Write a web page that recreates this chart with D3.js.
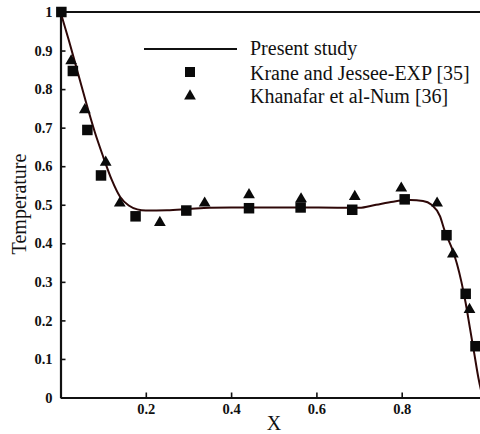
<!DOCTYPE html>
<html>
<head>
<meta charset="utf-8">
<script src="https://cdn.jsdelivr.net/npm/d3@7"></script>
<style>
  html, body { margin: 0; padding: 0; background: #fff; }
  svg { display: block; }
  text { font-family: "Liberation Serif", "Times New Roman", serif; fill: #111; }
</style>
</head>
<body>
<div id="chart"></div>
<script>
// ---- data ----
const curveX = [0, 0.02, 0.04, 0.06, 0.08, 0.10, 0.12, 0.14, 0.16, 0.18, 0.20, 0.25, 0.30, 0.35, 0.40, 0.50, 0.60, 0.70, 0.74, 0.78, 0.82, 0.85, 0.87, 0.89, 0.90, 0.92, 0.93, 0.94, 0.95, 0.96, 0.97, 0.98, 0.99];
const curveY = [1.0, 0.925, 0.845, 0.765, 0.69, 0.625, 0.565, 0.52, 0.498, 0.488, 0.485, 0.486, 0.489, 0.492, 0.493, 0.493, 0.493, 0.492, 0.50, 0.508, 0.512, 0.51, 0.50, 0.47, 0.435, 0.38, 0.345, 0.30, 0.245, 0.18, 0.115, 0.05, 0.0];

const expX = [0.002, 0.029, 0.063, 0.095, 0.176, 0.295, 0.442, 0.563, 0.684, 0.807, 0.905, 0.950, 0.973];
const expY = [1.0, 0.847, 0.694, 0.576, 0.470, 0.485, 0.491, 0.493, 0.487, 0.514, 0.421, 0.269, 0.133];

const numX = [0.025, 0.057, 0.106, 0.139, 0.233, 0.338, 0.442, 0.564, 0.690, 0.799, 0.883, 0.920, 0.959];
const numY = [0.873, 0.746, 0.610, 0.504, 0.454, 0.504, 0.526, 0.515, 0.521, 0.543, 0.504, 0.372, 0.228];

const xTicks = [0.2, 0.4, 0.6, 0.8];
const xTickLabels = ["0.2", "0.4", "0.6", "0.8"];
const yTicks = [0, 0.1, 0.2, 0.3, 0.4, 0.5, 0.6, 0.7, 0.8, 0.9, 1];
const yTickLabels = ["0", "0.1", "0.2", "0.3", "0.4", "0.5", "0.6", "0.7", "0.8", "0.9", "1"];
const seriesNames = ["Present study", "Krane and Jessee-EXP [35]", "Khanafar et al-Num [36]"];
const xTitle = "X";
const yTitle = "Temperature";

// ---- drawing ----
const W = 480, H = 434;
const svg = d3.select("#chart").append("svg").attr("width", W).attr("height", H);

const x = d3.scaleLinear().domain([0, 1]).range([60.5, 487]);
const y = d3.scaleLinear().domain([0, 1]).range([397.5, 12]);

// frame
svg.append("line").attr("x1", x(0)).attr("x2", x(1)).attr("y1", y(1)).attr("y2", y(1))
  .attr("stroke", "#111").attr("stroke-width", 2);
svg.append("line").attr("x1", x(1)).attr("x2", x(1)).attr("y1", y(1)).attr("y2", y(0))
  .attr("stroke", "#111").attr("stroke-width", 2);

// axes
const xAxis = d3.axisBottom(x).tickValues(xTicks)
  .tickFormat((d, i) => xTickLabels[i]).tickSizeInner(-5).tickSizeOuter(0).tickPadding(6);
const gx = svg.append("g").attr("transform", `translate(0,${y(0)})`).call(xAxis);
gx.select(".domain").attr("stroke", "#111").attr("stroke-width", 2.2);
gx.selectAll(".tick line").attr("stroke", "#111").attr("stroke-width", 1.6);
gx.selectAll(".tick text").attr("font-size", 14.5).attr("font-weight", "bold")
  .attr("font-family", "Liberation Serif").attr("fill", "#222");

const yAxis = d3.axisLeft(y).tickValues(yTicks)
  .tickFormat((d, i) => yTickLabels[i]).tickSizeInner(-5).tickSizeOuter(0).tickPadding(8);
const gy = svg.append("g").attr("transform", `translate(${x(0)},0)`).call(yAxis);
gy.select(".domain").attr("stroke", "#111").attr("stroke-width", 2.2);
gy.selectAll(".tick line").attr("stroke", "#111").attr("stroke-width", 1.6);
gy.selectAll(".tick text").attr("font-size", 14.5).attr("font-weight", "bold")
  .attr("font-family", "Liberation Serif").attr("fill", "#222");

// axis titles
svg.append("text").attr("x", 274).attr("y", 430).attr("text-anchor", "middle")
  .attr("font-size", 20).text(xTitle);
svg.append("text").attr("transform", "translate(26,204) rotate(-90)")
  .attr("text-anchor", "middle").attr("font-size", 20).text(yTitle);

// curve
const curvePts = curveX.map((v, i) => [v, curveY[i]]);
const line = d3.line().x(d => x(d[0])).y(d => y(d[1])).curve(d3.curveMonotoneX);
svg.append("path").datum(curvePts).attr("d", line)
  .attr("fill", "none").attr("stroke", "#2e0808").attr("stroke-width", 2);

// squares
const sq = 10.5;
svg.append("g").selectAll("rect").data(expX.map((v, i) => [v, expY[i]])).join("rect")
  .attr("x", d => x(d[0]) - sq / 2).attr("y", d => y(d[1]) - sq / 2)
  .attr("width", sq).attr("height", sq).attr("fill", "#0a0a0a");

// triangles
const tri = d3.symbol().type(d3.symbolTriangle).size(60);
svg.append("g").selectAll("path").data(numX.map((v, i) => [v, numY[i]])).join("path")
  .attr("transform", d => `translate(${x(d[0])},${y(d[1])})`)
  .attr("d", tri).attr("fill", "#0a0a0a");

// legend
svg.append("line").attr("x1", 144).attr("x2", 237).attr("y1", 49).attr("y2", 49)
  .attr("stroke", "#111").attr("stroke-width", 2);
svg.append("rect").attr("x", 190 - 5).attr("y", 72 - 5).attr("width", 10).attr("height", 10).attr("fill", "#0a0a0a");
svg.append("path").attr("transform", "translate(190,96)").attr("d", tri).attr("fill", "#0a0a0a");
const legY = [55, 80, 103];
seriesNames.forEach((n, i) => {
  svg.append("text").attr("x", 250).attr("y", legY[i]).attr("font-size", 20).text(n);
});
</script>
</body>
</html>
